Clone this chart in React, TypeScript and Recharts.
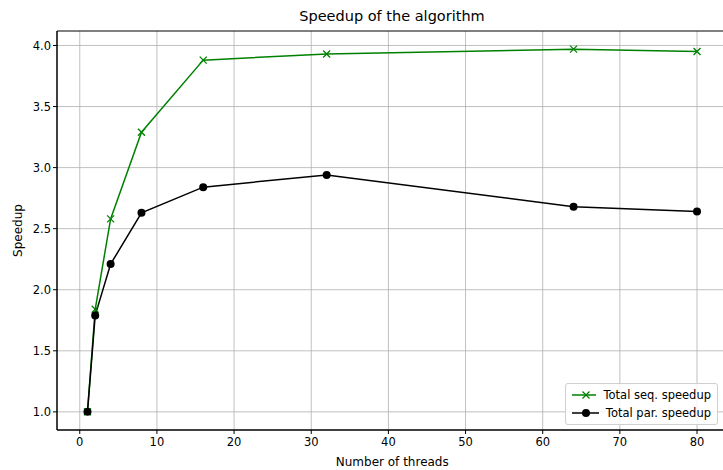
import React from 'react';
import {
  LineChart,
  Line,
  XAxis,
  YAxis,
  CartesianGrid,
  ReferenceArea,
} from 'recharts';

// thread counts and measured speedups
const threads = [1, 2, 4, 8, 16, 32, 64, 80];
const seqSpeedup = [1.0, 1.84, 2.58, 3.29, 3.88, 3.93, 3.97, 3.95];
const parSpeedup = [1.0, 1.79, 2.21, 2.63, 2.84, 2.94, 2.68, 2.64];

const xTicks = [0, 10, 20, 30, 40, 50, 60, 70, 80];
const yTicks = [1.0, 1.5, 2.0, 2.5, 3.0, 3.5, 4.0];

const X_DOMAIN: [number, number] = [-2.95, 83.95];
const Y_DOMAIN: [number, number] = [0.8515, 4.1185];

const data = threads.map((t, i) => ({
  threads: t,
  seq: seqSpeedup[i],
  par: parSpeedup[i],
}));

const font = '"DejaVu Sans", sans-serif';

const CrossDot = (props: any) => {
  const { cx, cy } = props;
  if (cx == null || cy == null) return null;
  const s = 3.5;
  return (
    <g>
      <line x1={cx - s} y1={cy - s} x2={cx + s} y2={cy + s} stroke="green" strokeWidth={1.3} />
      <line x1={cx - s} y1={cy + s} x2={cx + s} y2={cy - s} stroke="green" strokeWidth={1.3} />
    </g>
  );
};

const LegendBox = () => (
  <div
    style={{
      position: 'absolute',
      left: 565,
      top: 383,
      width: 153,
      boxSizing: 'border-box',
      border: '1px solid #d0d0d0',
      borderRadius: 3,
      background: 'rgba(255,255,255,0.8)',
      padding: '2px 6px',
      fontFamily: font,
      fontSize: 11.5,
      color: '#000',
      lineHeight: '18px',
      whiteSpace: 'nowrap',
    }}
  >
    <div style={{ display: 'flex', alignItems: 'center' }}>
      <svg width={28} height={12} style={{ marginRight: 7 }}>
        <line x1={0} y1={6} x2={28} y2={6} stroke="green" strokeWidth={1.5} />
        <line x1={10.5} y1={2.5} x2={17.5} y2={9.5} stroke="green" strokeWidth={1.3} />
        <line x1={10.5} y1={9.5} x2={17.5} y2={2.5} stroke="green" strokeWidth={1.3} />
      </svg>
      Total seq. speedup
    </div>
    <div style={{ display: 'flex', alignItems: 'center' }}>
      <svg width={28} height={12} style={{ marginRight: 7 }}>
        <line x1={0} y1={6} x2={28} y2={6} stroke="black" strokeWidth={1.5} />
        <circle cx={14} cy={6} r={4} fill="black" />
      </svg>
      Total par. speedup
    </div>
  </div>
);

const App: React.FC = () => {
  return (
    <div style={{ position: 'fixed', top: 0, left: 0, width: 723, height: 470, overflow: 'hidden', background: '#fff' }}>
      <div
        style={{
          position: 'absolute',
          top: 8,
          left: 57,
          width: 670,
          textAlign: 'center',
          fontFamily: font,
          fontSize: 14.5,
          color: '#000',
        }}
      >
        Speedup of the algorithm
      </div>
      <LineChart
        width={740}
        height={470}
        data={data}
        margin={{ top: 31, right: 12.5, left: 0, bottom: 0 }}
      >
        <CartesianGrid stroke="#b0b0b0" strokeWidth={0.8} horizontalValues={yTicks} verticalValues={xTicks} />
        <XAxis
          dataKey="threads"
          type="number"
          domain={X_DOMAIN}
          ticks={xTicks}
          allowDataOverflow
          height={40}
          tickSize={4}
          tickMargin={4}
          stroke="#000"
          tick={{ fill: '#000', fontSize: 11.5, fontFamily: font }}
          label={{ value: 'Number of threads', position: 'insideBottom', offset: 4, fill: '#000', fontSize: 12, fontFamily: font }}
        />
        <YAxis
          type="number"
          domain={Y_DOMAIN}
          ticks={yTicks}
          allowDataOverflow
          width={57}
          tickSize={4}
          stroke="#000"
          tickFormatter={(v: number) => v.toFixed(1)}
          tick={{ fill: '#000', fontSize: 11.5, fontFamily: font }}
          label={{ value: 'Speedup', angle: -90, position: 'insideLeft', offset: 18, fill: '#000', fontSize: 12, fontFamily: font, style: { textAnchor: 'middle' } }}
        />
        <ReferenceArea x1={X_DOMAIN[0]} x2={X_DOMAIN[1]} y1={Y_DOMAIN[0]} y2={Y_DOMAIN[1]} fill="none" fillOpacity={0} stroke="#000" strokeWidth={1} />
        <Line
          dataKey="seq"
          name="Total seq. speedup"
          stroke="green"
          strokeWidth={1.5}
          dot={<CrossDot />}
          activeDot={false}
          isAnimationActive={false}
        />
        <Line
          dataKey="par"
          name="Total par. speedup"
          stroke="black"
          strokeWidth={1.5}
          dot={{ r: 4, fill: 'black', stroke: 'black', strokeWidth: 0 }}
          activeDot={false}
          isAnimationActive={false}
        />
      </LineChart>
      <LegendBox />
    </div>
  );
};

export default App;
